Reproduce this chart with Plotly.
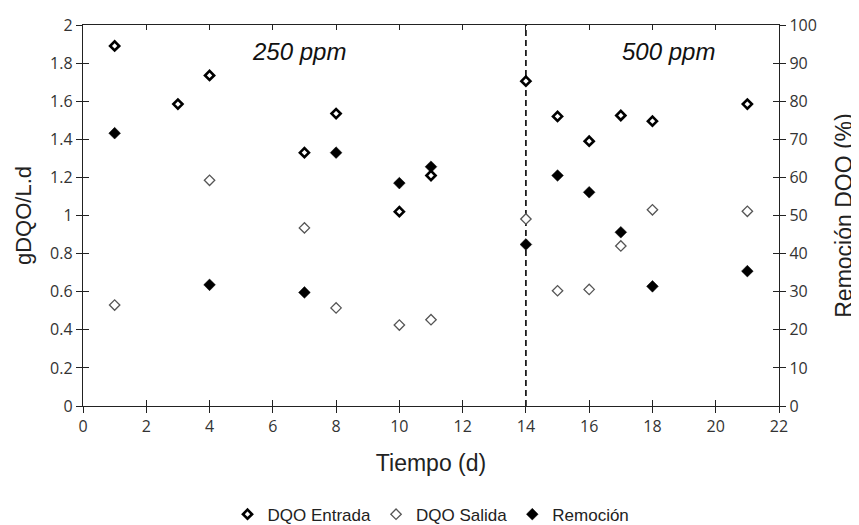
import plotly.graph_objects as go

# ---- data ----
days_entrada = [1, 3, 4, 7, 8, 10, 11, 14, 15, 16, 17, 18, 21]
dqo_entrada = [1.89, 1.585, 1.735, 1.33, 1.535, 1.02, 1.21, 1.705, 1.52, 1.39, 1.525, 1.495, 1.585]

days_salida = [1, 4, 7, 8, 10, 11, 14, 15, 16, 17, 18, 21]
dqo_salida = [0.53, 1.185, 0.935, 0.515, 0.425, 0.453, 0.982, 0.605, 0.612, 0.84, 1.03, 1.022]

days_remocion = [1, 4, 7, 8, 10, 11, 14, 15, 16, 17, 18, 21]
remocion = [71.6, 31.8, 29.8, 66.5, 58.5, 62.8, 42.4, 60.5, 56.1, 45.6, 31.4, 35.4]

change_day = 14
phase_labels = ["250 ppm", "500 ppm"]
phase_label_x = [6.83, 18.52]
phase_label_y = 1.86

x_range = [0, 22]
y_range = [0, 2]
y2_range = [0, 100]

TICK_FONT = dict(family="Open Sans, Lato, sans-serif", size=16, color="#333")
TITLE_FONT = dict(family="Liberation Sans, Arial, sans-serif", size=23, color="#222")
LINE = dict(showline=True, linecolor="#222", linewidth=1.4)
COMMON = dict(showgrid=False, zeroline=False, automargin=False)

fig = go.Figure()

fig.add_trace(go.Scatter(
    x=days_entrada, y=dqo_entrada, mode="markers", name="DQO Entrada",
    marker=dict(symbol="diamond", size=7, color="white", line=dict(color="#000", width=2.6)),
    xaxis="x", yaxis="y"))
fig.add_trace(go.Scatter(
    x=days_salida, y=dqo_salida, mode="markers", name="DQO Salida",
    marker=dict(symbol="diamond", size=8, color="white", line=dict(color="#555", width=1.3)),
    xaxis="x", yaxis="y"))
fig.add_trace(go.Scatter(
    x=days_remocion, y=remocion, mode="markers", name="Remoción",
    marker=dict(symbol="diamond", size=9, color="#000", line=dict(color="#000", width=0.5)),
    xaxis="x", yaxis="y2"))

# empty helper traces so the extra tick-only axes are drawn
for xa, ya in [("x2", "y"), ("x3", "y"), ("x", "y3"), ("x", "y4")]:
    fig.add_trace(go.Scatter(x=[], y=[], xaxis=xa, yaxis=ya, showlegend=False,
                             hoverinfo="skip", mode="markers"))

fig.add_shape(type="line", xref="x", yref="y", x0=change_day, x1=change_day,
              y0=y_range[0], y1=y_range[1],
              line=dict(color="#000", width=1.6, dash="6px,4px"), layer="below")

for txt, xv in zip(phase_labels, phase_label_x):
    fig.add_annotation(x=xv, y=phase_label_y, xref="x", yref="y", text=f"<i>{txt}</i>",
                       showarrow=False,
                       font=dict(family="Liberation Sans, Arial, sans-serif", size=24, color="#111"))

# the page body adds an 8px margin, so the figure is 8px smaller and margins shifted
fig.update_layout(
    width=851, height=517,
    margin=dict(l=75, r=80, t=17, b=119, autoexpand=False),
    paper_bgcolor="white", plot_bgcolor="white",
    showlegend=True,
    legend=dict(orientation="h", x=0.5, xanchor="center", xref="paper",
                y=0.02, yref="container", yanchor="middle",
                font=dict(family="Liberation Sans, Arial, sans-serif", size=17, color="#222"),
                itemwidth=30, tracegroupgap=0),
    xaxis=dict(range=x_range, dtick=2, tick0=0, ticks="outside", ticklen=6, tickwidth=1.4,
               tickcolor="#222", tickfont=TICK_FONT, **COMMON,
               title=dict(text="Tiempo (d)", font=TITLE_FONT, standoff=18), **LINE),
    xaxis2=dict(range=x_range, dtick=2, tick0=0, overlaying="x", anchor="y", side="bottom",
                ticks="inside", ticklen=6, tickwidth=1.4, tickcolor="#222",
                showticklabels=False, showline=False, **COMMON),
    xaxis3=dict(range=x_range, dtick=2, tick0=0, overlaying="x", anchor="y", side="top",
                ticks="inside", ticklen=5, tickwidth=1.4, tickcolor="#222",
                showticklabels=False, **COMMON, **LINE),
    yaxis=dict(range=y_range, dtick=0.2, tick0=0, ticks="outside", ticklen=6, tickwidth=1.4,
               tickcolor="#222", tickfont=TICK_FONT, tickformat="~g", **COMMON,
               title=dict(text="gDQO/L.d", font=dict(TITLE_FONT, size=22), standoff=12), **LINE),
    yaxis3=dict(range=y_range, dtick=0.2, tick0=0, overlaying="y", anchor="x", side="left",
                ticks="inside", ticklen=6, tickwidth=1.4, tickcolor="#222",
                showticklabels=False, showline=False, **COMMON),
    yaxis2=dict(range=y2_range, dtick=10, tick0=0, overlaying="y", anchor="x", side="right",
                ticks="outside", ticklen=6, tickwidth=1.4, tickcolor="#222",
                tickfont=TICK_FONT, **COMMON,
                title=dict(text="Remoción DQO (%)", font=TITLE_FONT, standoff=20), **LINE),
    yaxis4=dict(range=y2_range, dtick=10, tick0=0, overlaying="y", anchor="x", side="right",
                ticks="inside", ticklen=6, tickwidth=1.4, tickcolor="#222",
                showticklabels=False, showline=False, **COMMON),
)

fig.write_html("out.html")
